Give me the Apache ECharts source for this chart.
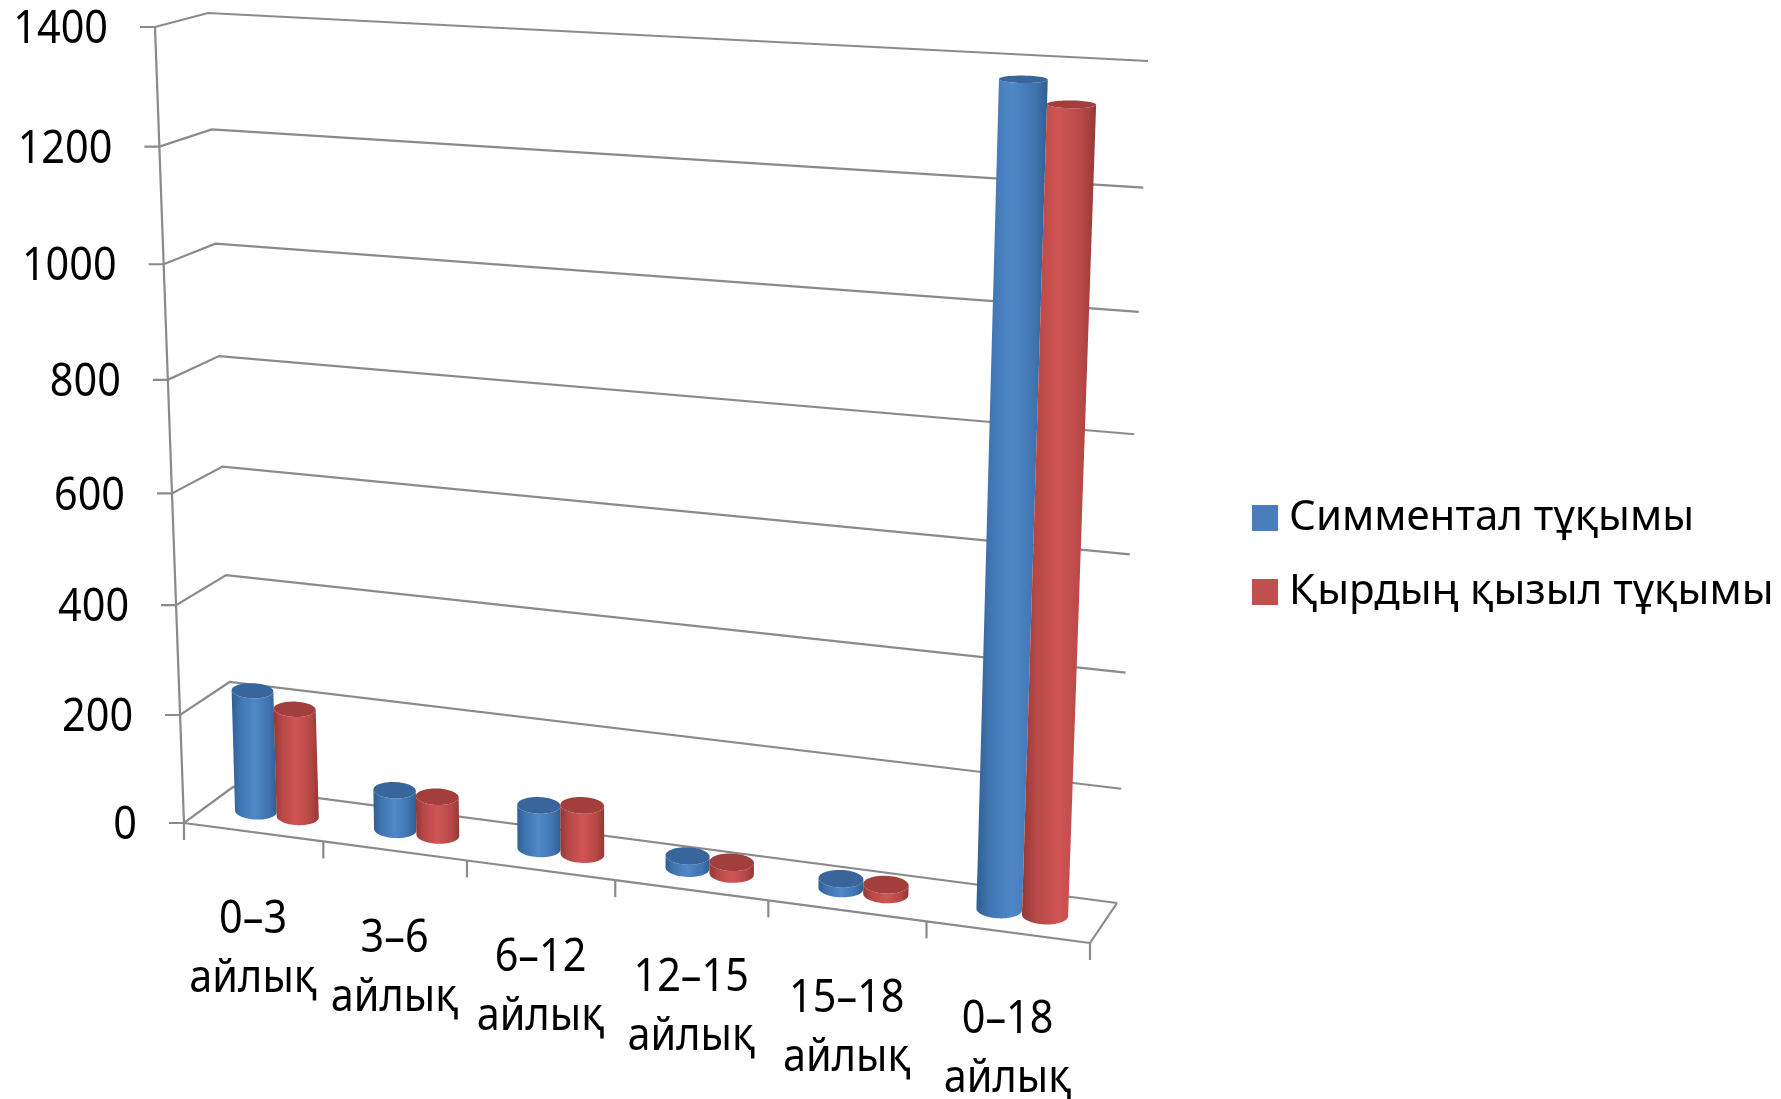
<!DOCTYPE html>
<html>
<head>
<meta charset="utf-8">
<style>html,body{margin:0;padding:0;background:#fff}#chart{width:1781px;height:1099px}</style>
<script src="https://cdn.jsdelivr.net/npm/echarts@6/dist/echarts.min.js"></script>
</head>
<body>
<div id="chart"></div>
<script>
const categories = ['0–3 айлық', '3–6 айлық', '6–12 айлық', '12–15 айлық', '15–18 айлық', '0–18 айлық'];
const simmental = [225, 73, 79, 22, 17, 1375];
const kyrdyn = [200, 71, 89, 21, 17, 1340];
const yTicks = [0, 200, 400, 600, 800, 1000, 1200, 1400];
const seriesNames = ['Симментал тұқымы', 'Қырдың қызыл тұқымы'];

// Projection of the chart's box (category, value, depth) on to the page
const BOX = {
  f00: [184, 823], f10: [1090, 943], f01: [155, 27], f11: [1122, 77],
  b00: [233, 787], b10: [1117, 903], b01: [208, 13], b11: [1148, 61]
};
const persp = (t, c) => t * (1 + c) / (1 + c * t);
function P(s, t, w) {
  const u = persp(s, -0.0916), v = persp(t, -0.058);
  const mix = (a, b, k) => [a[0] + (b[0] - a[0]) * k, a[1] + (b[1] - a[1]) * k];
  const front = mix(mix(BOX.f00, BOX.f10, u), mix(BOX.f01, BOX.f11, u), v);
  const back = mix(mix(BOX.b00, BOX.b10, u), mix(BOX.b01, BOX.b11, u), v);
  return mix(front, back, w);
}
function norm(cs, pt) {
  return [(pt[0] - cs.x) / cs.width, (cs.y + cs.height - pt[1]) / cs.height];
}
const FONT = 'Noto Sans';
const FONT_SIZE = 46;
const TEXT_SX = 0.9;
const LINE = '#8a8a8a';

function label(x, y, text, align) {
  return {
    type: 'text', x: x, y: y, scaleX: TEXT_SX, silent: true,
    style: { x: 0, y: 0, text: text, fill: '#000', fontFamily: FONT, fontSize: FONT_SIZE, align: align, verticalAlign: 'middle' }
  };
}
function polyline(pts, width) {
  return { type: 'polyline', silent: true, shape: { points: pts }, style: { stroke: LINE, lineWidth: width || 2.2, fill: null } };
}

// value axis: walls, ticks, labels
function renderY(params, api) {
  const t = norm(params.coordSys, api.coord([0, api.value(1)]))[1];
  const fl = P(0, t, 0), bl = P(0, t, 1), br = P(1, t, 1);
  return {
    type: 'group',
    children: [
      polyline([[fl[0] - 15, fl[1]], fl, bl, br]),
      label(fl[0] - 47, fl[1] + 3, String(api.value(1)), 'right')
    ]
  };
}
// category axis: frame, ticks, labels
function renderX(params, api) {
  const cs = params.coordSys;
  const band = api.size([1, 0])[0];
  const i = api.value(0);
  const pt = api.coord([i, 0]);
  const s0 = (pt[0] - band / 2 - cs.x) / cs.width;
  const sc = (pt[0] - cs.x) / cs.width;
  const s1 = (pt[0] + band / 2 - cs.x) / cs.width;
  const a = P(s0, 0, 0), b = P(s1, 0, 0), c = P(sc, 0, 0);
  const parts = categories[i].split(' ');
  const kids = [
    polyline([a, b]),
    polyline([b, [b[0], b[1] + 17]]),
    label(c[0], c[1] + 88, parts[0], 'center'),
    label(c[0], c[1] + 147, parts[1], 'center')
  ];
  if (i === 0) {
    kids.push(polyline([a, [a[0], a[1] + 17]]));
    kids.push(polyline([a, P(0, 1, 0)]));
  }
  if (i === categories.length - 1) kids.push(polyline([b, P(1, 0, 1)]));
  return { type: 'group', children: kids };
}
// cylinders
function cylinder(colors, side) {
  return function (params, api) {
    const cs = params.coordSys;
    const band = api.size([1, 0])[0];
    const top = api.coord([api.value(0), api.value(1)]);
    const half = band * 0.153;
    const t = norm(cs, top)[1];
    const sc = (top[0] - cs.x) / cs.width;
    const ring = (tv) => {
      // bars keep nearly constant width across the floor and towards the top
      const k = (1 - 0.07 * tv) * (1 - 0.08 * sc * (1 - tv));
      const centre = (top[0] + side * half * k - cs.x) / cs.width;
      const edge = (top[0] + side * half * k + half * k - cs.x) / cs.width;
      const c = P(centre, tv, 0.5), r = P(edge, tv, 0.5);
      const dy = Math.abs(P(centre, tv, 0)[1] - P(centre, tv, 1)[1]) * 0.23;
      return (th) => [
        c[0] + (r[0] - c[0]) * Math.cos(th),
        c[1] + (r[1] - c[1]) * 0.25 * Math.cos(th) + dy * Math.sin(th)
      ];
    };
    const base = ring(0), head = ring(t);
    const sidePts = [], topPts = [];
    for (let k = 0; k <= 30; k++) sidePts.push(base(Math.PI * k / 30));
    for (let k = 30; k >= 0; k--) sidePts.push(head(Math.PI * k / 30));
    for (let k = 0; k < 60; k++) topPts.push(head(2 * Math.PI * k / 60));
    return {
      type: 'group',
      children: [
        {
          type: 'polygon', shape: { points: sidePts },
          style: {
            fill: new echarts.graphic.LinearGradient(0, 0, 1, 0, [
              { offset: 0, color: colors[0] }, { offset: 0.18, color: colors[1] },
              { offset: 0.5, color: colors[2] }, { offset: 0.82, color: colors[1] },
              { offset: 1, color: colors[0] }
            ])
          }
        },
        { type: 'polygon', shape: { points: topPts }, style: { fill: colors[3] } }
      ]
    };
  };
}

const chart = echarts.init(document.getElementById('chart'), null, { renderer: 'canvas' });
chart.setOption({
  animation: false,
  backgroundColor: '#fff',
  grid: { left: 100, top: 100, width: 900, height: 800 },
  xAxis: { type: 'category', data: categories, show: false },
  yAxis: { type: 'value', min: 0, max: 1400, interval: 200, show: false },
  legend: {
    data: seriesNames, orient: 'vertical', left: 1252, top: 497, itemWidth: 26, itemHeight: 26, itemGap: 32,
    icon: 'rect', selectedMode: false, padding: 0,
    textStyle: { color: '#000', fontFamily: FONT, fontSize: 42, padding: [0, 0, 0, 6] }
  },
  series: [
    { type: 'custom', silent: true, z: 1, clip: false, renderItem: renderY, data: yTicks.map(v => [0, v]) },
    { type: 'custom', silent: true, z: 1, clip: false, renderItem: renderX, data: categories.map((c, i) => [i, 0]) },
    { type: 'custom', name: seriesNames[0], z: 2, clip: false, itemStyle: { color: '#4a7ebb' },
      renderItem: cylinder(['#2f5f94', '#3f74b0', '#5088c8', '#38669c'], -1), data: simmental.map((v, i) => [i, v]) },
    { type: 'custom', name: seriesNames[1], z: 3, clip: false, itemStyle: { color: '#c0504d' },
      renderItem: cylinder(['#943836', '#b54846', '#d05554', '#a23e3c'], 1), data: kyrdyn.map((v, i) => [i, v]) }
  ]
});
</script>
</body>
</html>
